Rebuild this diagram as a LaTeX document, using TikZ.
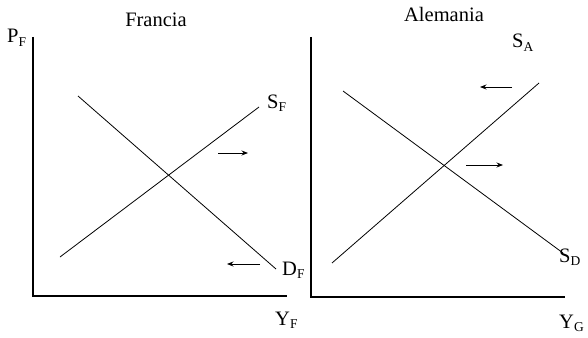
\documentclass[tikz,border=0pt]{standalone}
\usepackage{fontspec}
\setmainfont{Liberation Serif}
\usetikzlibrary{arrows.meta}
\newcommand{\sublab}[2]{#1\raisebox{-3.5pt}{\fontsize{13.5}{13.5}\selectfont #2}}
\begin{document}
\begin{tikzpicture}[x=1pt,y=-1pt,
  curve/.style={line width=0.8pt},
  axis/.style={line width=1.4pt},
  shiftarrow/.style={line width=0.8pt,-{Stealth[length=6.5pt,width=5pt]}},
  lab/.style={inner sep=0pt,anchor=base west,font=\fontsize{20.5}{20.5}\selectfont},
  ttl/.style={inner sep=0pt,anchor=base,font=\fontsize{20.5}{20.5}\selectfont}]
\useasboundingbox (0,0) rectangle (588,337);
% left panel
\coordinate (lo) at (33,296);
\coordinate (ly) at (33,37);
\coordinate (lx) at (287,296);
\coordinate (ld1) at (78,96);
\coordinate (ld2) at (276,269);
\coordinate (ls1) at (60,257);
\coordinate (ls2) at (259,107);
\coordinate (la1s) at (218,153);
\coordinate (la1e) at (248,153);
\coordinate (la2s) at (260,264);
\coordinate (la2e) at (227,264);
\draw[axis] (ly) -- (lo) -- (lx);
\draw[curve] (ld1) -- (ld2);
\draw[curve] (ls1) -- (ls2);
\draw[shiftarrow] (la1s) -- (la1e);
\draw[shiftarrow] (la2s) -- (la2e);
\node[ttl] (francia) at (156,27) {Francia};
\node[lab] (pf) at (7,43) {\sublab{P}{F}};
\node[lab] (sf) at (267,108) {\sublab{S}{F}};
\node[lab] (df) at (282,275) {\sublab{D}{F}};
\node[lab] (yf) at (275,325) {\sublab{Y}{F}};
% right panel
\coordinate (ro) at (311,297);
\coordinate (ry) at (311,37);
\coordinate (rx) at (565,297);
\coordinate (rd1) at (343,91);
\coordinate (rd2) at (563,253);
\coordinate (rs1) at (332,263);
\coordinate (rs2) at (539,83);
\coordinate (ra1s) at (512,87);
\coordinate (ra1e) at (480,87);
\coordinate (ra2s) at (466,165);
\coordinate (ra2e) at (503,165);
\draw[axis] (ry) -- (ro) -- (rx);
\draw[curve] (rd1) -- (rd2);
\draw[curve] (rs1) -- (rs2);
\draw[shiftarrow] (ra1s) -- (ra1e);
\draw[shiftarrow] (ra2s) -- (ra2e);
\node[ttl] (alemania) at (444,22) {Alemania};
\node[lab] (sa) at (512,48) {\sublab{S}{A}};
\node[lab] (sd) at (559,262) {\sublab{S}{D}};
\node[lab] (yg) at (559,328) {\sublab{Y}{G}};
\end{tikzpicture}
\end{document}
